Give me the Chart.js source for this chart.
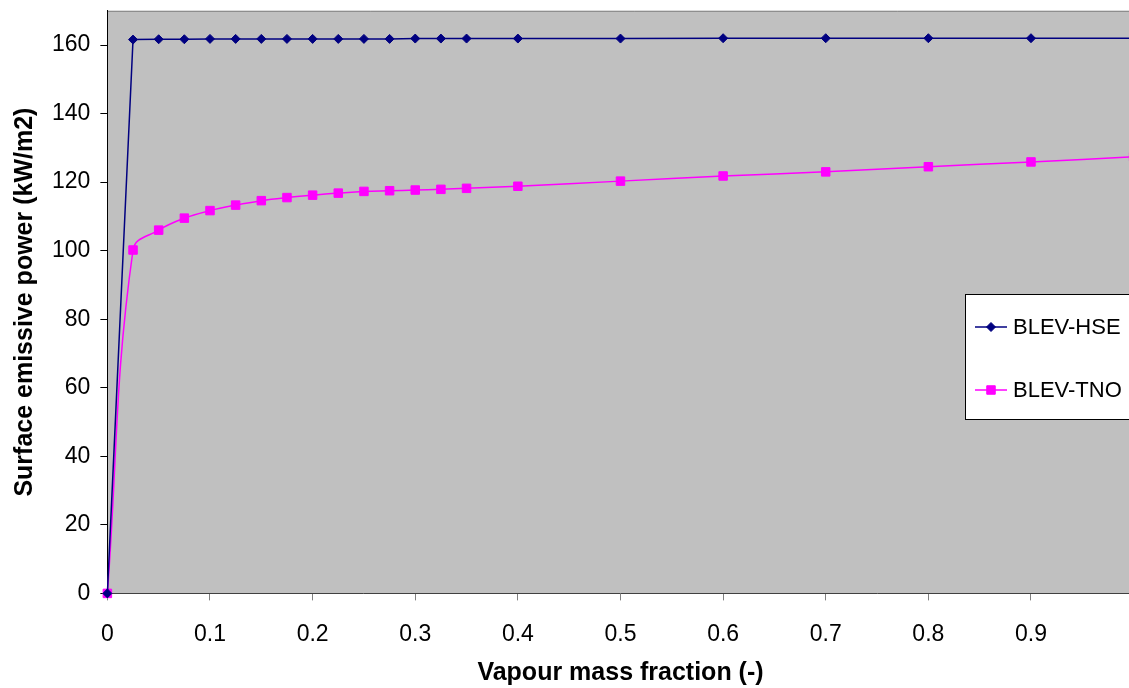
<!DOCTYPE html>
<html>
<head>
<meta charset="utf-8">
<title>Surface emissive power</title>
<script src="https://cdn.jsdelivr.net/npm/chart.js@4/dist/chart.umd.min.js"></script>
<style>
    html, body {
        margin: 0;
        padding: 0;
        background: #ffffff;
        overflow: hidden;
    }

    #wrap {
        position: relative;
        width: 1129px;
        height: 688px;
        overflow: hidden;
    }

    #sepChart {
        position: absolute;
        left: 0;
        top: -13px;
    }
</style>
</head>
<body>
<div id="wrap">
    <canvas id="sepChart" width="1160" height="704"></canvas>
</div>

<script>
// ======================================================
// Data
// ======================================================

const vapourFraction = [
    0, 0.025, 0.05, 0.075, 0.1, 0.125, 0.15, 0.175, 0.2, 0.225,
    0.25, 0.275, 0.3, 0.325, 0.35, 0.4, 0.5, 0.6, 0.7, 0.8, 0.9, 1.0
];

const blevHse = [
    0, 161.6, 161.7, 161.7, 161.8, 161.8, 161.8, 161.8, 161.8, 161.8,
    161.8, 161.8, 161.9, 161.9, 161.9, 161.9, 161.9, 162, 162, 162, 162, 162
];

const blevTno = [
    0, 100.2, 106.0, 109.5, 111.7, 113.3, 114.6, 115.5, 116.2, 116.8,
    117.3, 117.5, 117.7, 117.9, 118.2, 118.8, 120.3, 121.8, 123.0, 124.5, 125.9, 127.4
];

const xTicks = [0, 0.1, 0.2, 0.3, 0.4, 0.5, 0.6, 0.7, 0.8, 0.9, 1];

const yTicks = [0, 20, 40, 60, 80, 100, 120, 140, 160];

// ======================================================
// Theme
// ======================================================

const fontFamily = "'Liberation Sans', Arial, sans-serif";

const plotGrey = "#c0c0c0";

// ======================================================
// Plugins
// ======================================================

// grey plot area with a thin frame line on top
const plotBackground = {

    id: "plotBackground",

    beforeDraw(chart) {

        const { ctx, chartArea } = chart;

        ctx.save();

        ctx.fillStyle = plotGrey;
        ctx.fillRect(
            chartArea.left,
            chartArea.top,
            chartArea.right - chartArea.left + 40,
            chartArea.bottom - chartArea.top
        );

        ctx.strokeStyle = "#808080";
        ctx.lineWidth = 1;
        ctx.beginPath();
        ctx.moveTo(chartArea.left, chartArea.top + 0.5);
        ctx.lineTo(chartArea.right + 40, chartArea.top + 0.5);
        ctx.stroke();

        ctx.restore();
    }
};

// boxed legend sitting on the right edge of the plot
const boxLegend = {

    id: "boxLegend",

    afterDraw(chart, args, opts) {

        const { ctx } = chart;

        ctx.save();

        ctx.fillStyle = "#ffffff";
        ctx.fillRect(opts.x, opts.y, opts.width, opts.height);

        ctx.strokeStyle = "#000000";
        ctx.lineWidth = 1;
        ctx.strokeRect(opts.x + 0.5, opts.y + 0.5, opts.width, opts.height);

        ctx.font = `22px ${fontFamily}`;
        ctx.textBaseline = "middle";
        ctx.textAlign = "left";

        chart.data.datasets.forEach((ds, i) => {

            const rowY = opts.y + opts.firstRow + i * opts.rowGap;
            const lineX = opts.x + 10;

            ctx.strokeStyle = ds.borderColor;
            ctx.lineWidth = 1.5;
            ctx.beginPath();
            ctx.moveTo(lineX, rowY);
            ctx.lineTo(lineX + 32, rowY);
            ctx.stroke();

            ctx.fillStyle = ds.pointBackgroundColor;
            ctx.strokeStyle = ds.pointBorderColor;
            ctx.lineWidth = 1;
            Chart.helpers.drawPoint(ctx, {
                pointStyle: ds.pointStyle,
                radius: ds.pointRadius,
                borderWidth: 1
            }, lineX + 16, rowY);

            ctx.fillStyle = "#000000";
            ctx.fillText(ds.label, lineX + 38, rowY + 1);
        });

        ctx.restore();
    }
};

// ======================================================
// Chart
// ======================================================

new Chart(
    document.getElementById("sepChart"),
    {
        type: "line",

        data: {
            datasets: [
                {
                    label: "BLEV-HSE",
                    data: vapourFraction.map((x, i) => ({ x, y: blevHse[i] })),
                    borderColor: "#000080",
                    borderWidth: 1.5,
                    pointStyle: "rectRot",
                    pointRadius: 4.5,
                    pointBackgroundColor: "#000080",
                    pointBorderColor: "#000080",
                    pointBorderWidth: 1,
                    tension: 0,
                    fill: false
                },
                {
                    label: "BLEV-TNO",
                    data: vapourFraction.map((x, i) => ({ x, y: blevTno[i] })),
                    borderColor: "#ff00ff",
                    borderWidth: 1.5,
                    pointStyle: "rect",
                    pointRadius: 6,
                    pointBackgroundColor: "#ff00ff",
                    pointBorderColor: "#ff00ff",
                    pointBorderWidth: 1,
                    tension: 0.4,
                    fill: false
                }
            ]
        },

        options: {

            responsive: false,

            animation: false,

            clip: false,

            layout: {
                padding: { top: 9, right: 25, bottom: 3, left: 10 }
            },

            plugins: {

                legend: {
                    display: false
                },

                tooltip: {
                    enabled: false
                },

                boxLegend: {
                    x: 965,
                    y: 307,
                    width: 220,
                    height: 125,
                    firstRow: 33,
                    rowGap: 63
                }
            },

            scales: {

                x: {
                    type: "linear",
                    min: 0,
                    max: 1,

                    afterBuildTicks(scale) {
                        scale.ticks = xTicks.map(v => ({ value: v }));
                    },

                    ticks: {
                        color: "#000000",
                        padding: 20,
                        maxRotation: 0,
                        font: { family: fontFamily, size: 23 },
                        callback: v => String(v)
                    },

                    grid: {
                        drawOnChartArea: false,
                        tickLength: 7,
                        color: "#808080"
                    },

                    border: {
                        color: "#404040",
                        width: 1
                    },

                    title: {
                        display: true,
                        text: "Vapour mass fraction (-)",
                        color: "#000000",
                        padding: { top: -10, bottom: 0 },
                        font: { family: fontFamily, size: 25, weight: "bold" }
                    }
                },

                y: {
                    type: "linear",
                    min: 0,
                    max: 170,

                    afterBuildTicks(scale) {
                        scale.ticks = yTicks.map(v => ({ value: v }));
                    },

                    ticks: {
                        color: "#000000",
                        padding: 10,
                        font: { family: fontFamily, size: 23 }
                    },

                    grid: {
                        drawOnChartArea: false,
                        tickLength: 7,
                        color: "#000000"
                    },

                    border: {
                        color: "#000000",
                        width: 1
                    },

                    title: {
                        display: true,
                        text: "Surface emissive power (kW/m2)",
                        color: "#000000",
                        padding: { top: 0, bottom: 2 },
                        font: { family: fontFamily, size: 25, weight: "bold" }
                    }
                }
            }
        },

        plugins: [plotBackground, boxLegend]
    }
);
</script>
</body>
</html>
